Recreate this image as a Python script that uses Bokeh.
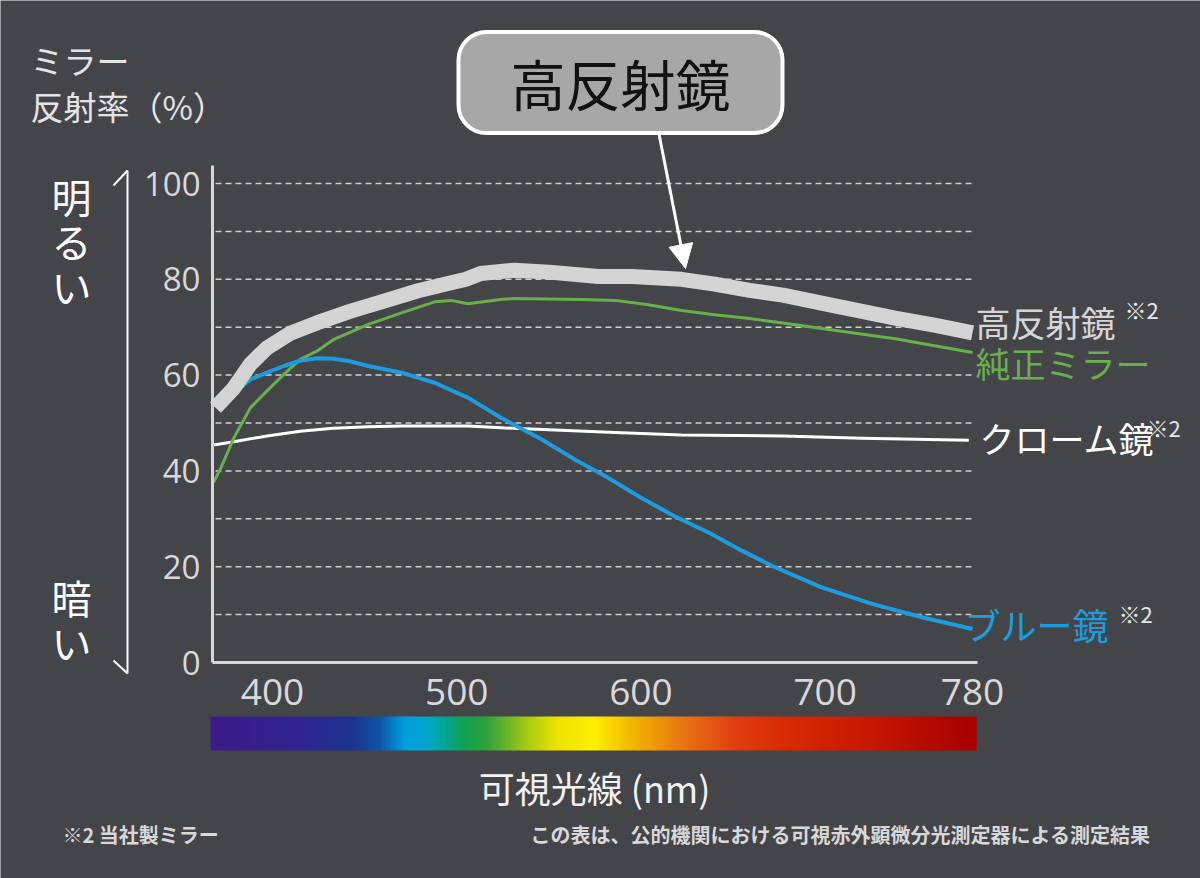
import numpy as np
from bokeh.plotting import figure
from bokeh.models import Range1d, FixedTicker, Label, Arrow, NormalHead, LinearAxis
from bokeh.embed import file_html
from bokeh.resources import INLINE

# ---------------- data ----------------
high_nm = [369, 379, 388, 397, 410, 424, 442, 460, 479, 497, 505, 513, 531, 550,
           577, 595, 622, 640, 659, 677, 702, 738, 760, 780]
high_val = [53.2, 57.3, 62.3, 65.7, 68.8, 70.9, 73.3, 75.4, 77.6, 79.3, 80.0, 81.2,
            81.9, 81.5, 80.6, 80.6, 80.0, 79.0, 77.7, 76.7, 74.7, 71.9, 70.4, 68.8]

oem_nm = [368, 372, 379, 388, 397, 406, 415, 424, 433, 452, 470, 488, 497, 506,
          524, 531, 568, 586, 604, 622, 640, 659, 677, 702, 738, 780]
oem_val = [37.6, 40.7, 46.9, 53.2, 56.7, 60.1, 63.3, 65.0, 67.4, 70.6, 73.0, 75.3,
           75.6, 74.9, 75.8, 76.0, 75.8, 75.6, 74.7, 73.5, 72.6, 71.8, 70.9, 69.5,
           67.6, 64.7]

chrome_nm = [368, 379, 397, 415, 433, 452, 470, 506, 524, 550, 586, 622, 677, 720, 778]
chrome_val = [45.4, 46.1, 47.3, 48.3, 48.9, 49.2, 49.4, 49.4, 49.0, 48.6, 48.0,
              47.5, 47.3, 46.8, 46.4]

blue_nm = [378, 388, 397, 406, 415, 424, 433, 442, 452, 470, 488, 506, 524, 546,
           564, 582, 600, 618, 637, 655, 671, 698, 726, 753, 780]
blue_val = [56.0, 59.1, 60.5, 61.9, 63.0, 63.5, 63.4, 62.9, 61.9, 60.5, 58.4, 55.3,
            51.1, 46.6, 42.4, 38.6, 34.4, 30.6, 27.1, 23.3, 20.2, 15.7, 12.2, 9.4, 7.0]

x_ticks = [400, 500, 600, 700, 780]
y_ticks = [0, 20, 40, 60, 80, 100]
grid_ticks = [10, 20, 30, 40, 50, 60, 70, 80, 90, 100]

spectrum_nm = [366.3, 416.3, 444.0, 458.0, 471.6, 485.7, 504.7, 516.0, 538.4,
               554.7, 574.2, 596.5, 624.2, 651.9, 679.6, 720.8, 782.2]
spectrum_colors = ["#3a1c8a", "#302590", "#1c3590", "#0c55a5", "#00a0e2", "#00a8c0",
                   "#12a04e", "#30a23c", "#a8cc10", "#eee400", "#fff000", "#f2b400",
                   "#e87214", "#e03e10", "#d82a04", "#c81a02", "#a60000"]

# ---------------- style ----------------
BG = "#444549"
JP = "Noto Sans CJK JP"
NUM = "Open Sans"
GRAY = "#d4d4d4"
GREEN = "#68b04a"
BLUE = "#1d9ddf"
WHITE = "#ffffff"

W, H = 1200, 878
FL, FR, FT, FB = 212, 977, 165, 662      # plot area in page pixels
X0, X1 = 367.4, 782.7                    # wavelength at FL / FR
Y0, Y1 = 0.0, 103.76                     # reflectance at FB / FT


def xd(px):
    return X0 + (px - FL) * (X1 - X0) / (FR - FL)


def yd(py):
    return Y0 + (FB - py) * (Y1 - Y0) / (FB - FT)


p = figure(width=W, height=H, x_range=Range1d(xd(0), xd(W)), y_range=Range1d(yd(H), yd(0)),
           x_axis_type=None, y_axis_type=None, min_border=0,
           output_backend="svg", toolbar_location=None,
           background_fill_color=BG, border_fill_color=BG, outline_line_color=None)
p.grid.visible = False

xa = LinearAxis(fixed_location=Y0, bounds=(X0, X1), ticker=FixedTicker(ticks=x_ticks))
ya = LinearAxis(fixed_location=X0, bounds=(Y0, Y1), ticker=FixedTicker(ticks=y_ticks))
for ax in (xa, ya):
    ax.axis_line_color = "#d6d6d6"
    ax.axis_line_width = 3
    ax.major_tick_line_color = None
    ax.minor_tick_line_color = None
    ax.major_label_text_color = "#d9d9d9"
    ax.major_label_text_font = NUM
xa.major_label_text_font_size = "37px"
xa.major_label_standoff = 10
ya.major_label_text_font_size = "33px"
ya.major_label_standoff = 6
p.add_layout(xa, "below")
p.add_layout(ya, "left")

# dashed grid lines
n = len(grid_ticks)
p.segment(x0=[xd(215)] * n, y0=grid_ticks, x1=[xd(975)] * n, y1=grid_ticks,
          line_color="#cfcfcf", line_dash="6 4", line_width=1.5)

p.line(chrome_nm, chrome_val, line_color=WHITE, line_width=3, line_join="round")
p.line(oem_nm, oem_val, line_color=GREEN, line_width=3, line_join="round")
p.line(blue_nm, blue_val, line_color=BLUE, line_width=4, line_join="round")
p.line(high_nm, high_val, line_color=GRAY, line_width=15, line_join="round")


def lab(px, py, text, size, color, align="left", baseline="middle", bold=False,
        font=JP, **kw):
    p.add_layout(Label(x=xd(px), y=yd(py), text=text, text_font=font,
                       text_font_size=f"{size}px", text_color=color,
                       text_align=align, text_baseline=baseline,
                       text_font_style="bold" if bold else "normal", **kw))


# title
lab(30, 59, "ミラー", 33, "#e4e4e4")
lab(30, 105, "反射率（%）", 33, "#e4e4e4")

# bright / dark
lab(71, 166, "明\nる\nい", 40, WHITE, align="center", baseline="top", text_line_height=0.78)
lab(71, 567, "暗\nい", 40, WHITE, align="center", baseline="top", text_line_height=0.78)
for (a, b, c, d) in [(113, 185, 127, 170), (127, 170, 127, 673), (127, 673, 113, 660)]:
    p.add_layout(Arrow(x_start=xd(a), y_start=yd(b), x_end=xd(c), y_end=yd(d),
                       start=None, end=None, line_color=WHITE, line_width=2))

# callout
p.add_layout(Label(x=xd(620), y=yd(82), text="高反射鏡", text_font=JP,
                   text_font_size="55px", text_color="#111111",
                   text_align="center", text_baseline="middle",
                   background_fill_color="#a7a7a7", border_line_color=WHITE,
                   border_line_width=4, border_radius=28,
                   padding=dict(left=52, right=52, top=10, bottom=11)))
p.add_layout(Arrow(x_start=xd(658), y_start=yd(131), x_end=xd(685), y_end=yd(268),
                   line_color=WHITE, line_width=3,
                   end=NormalHead(size=24, fill_color=WHITE, line_color=WHITE,
                                  line_width=1)))

# series labels
lab(975, 321, "高反射鏡", 35, "#d6d6d6")
lab(1124, 308, "※2", 22, "#e6e6e6")
lab(975, 362, "純正ミラー", 35, GREEN)
lab(979, 437, "クローム鏡", 35, WHITE)
lab(1146, 426, "※2", 22, "#e6e6e6")
lab(964, 623, "ブルー鏡", 36, BLUE)
lab(1118, 612, "※2", 22, "#e6e6e6")

# spectrum bar
def hex_rgb(h):
    return [int(h[i:i + 2], 16) for i in (1, 3, 5)]


N = 600
bx0, bx1 = spectrum_nm[0], spectrum_nm[-1]
xs = np.linspace(bx0, bx1, N)
rgb = np.array([hex_rgb(c) for c in spectrum_colors], dtype=float)
img = np.empty((1, N), dtype=np.uint32)
view = img.view(dtype=np.uint8).reshape((1, N, 4))
for k in range(3):
    view[0, :, k] = np.interp(xs, spectrum_nm, rgb[:, k]).astype(np.uint8)
view[0, :, 3] = 255
p.image_rgba(image=[img], x=bx0, y=yd(750), dw=bx1 - bx0, dh=yd(716) - yd(750))

# bottom texts
lab(594, 786, "可視光線 (nm)", 36, "#f2f2f2", align="center")
lab(62, 834, "※2 当社製ミラー", 20, "#d8d8d8", bold=True)
lab(1150, 834, "この表は、公的機関における可視赤外顕微分光測定器による測定結果", 20,
    "#d8d8d8", align="right", bold=True)

open("out.html", "w").write(file_html(p, INLINE))
